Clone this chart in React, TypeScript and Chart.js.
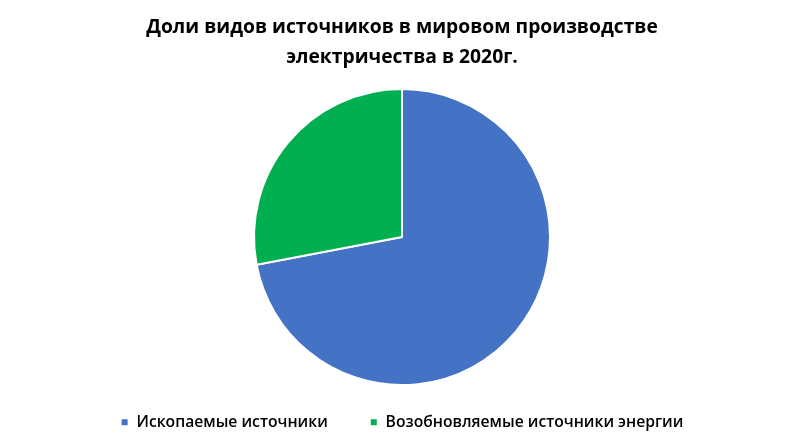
import React, { useEffect, useRef } from "react";
import { Chart, registerables } from "chart.js";

Chart.register(...registerables);

const sources = ["Ископаемые источники", "Возобновляемые источники энергии"];
const shares = [72, 28];
const colors = ["#4472C4", "#00B050"];
const titleLines = ["Доли видов источников в мировом производстве", "электричества в 2020г."];

export default function App() {
  const canvasRef = useRef<HTMLCanvasElement | null>(null);

  useEffect(() => {
    document.body.style.margin = "0";
    if (!canvasRef.current) return;
    const ctx = canvasRef.current.getContext("2d");
    if (!ctx) return;

    const chart = new Chart(ctx, {
      type: "pie",
      data: {
        labels: sources,
        datasets: [
          {
            data: shares,
            backgroundColor: colors,
            borderColor: "#ffffff",
            borderWidth: 2,
            radius: 148,
          },
        ],
      },
      options: {
        responsive: false,
        animation: false,
        layout: { padding: { top: 0, bottom: 2 } },
        plugins: {
          title: {
            display: true,
            text: titleLines,
            color: "#000000",
            font: { family: "Open Sans", size: 19.3, weight: "bold", lineHeight: 1.55 },
            padding: { top: 13, bottom: 29 },
          },
          legend: {
            position: "bottom",
            labels: {
              color: "#000000",
              font: { family: "Open Sans", size: 15.7, weight: "600" },
              boxWidth: 8,
              boxHeight: 8,
              padding: 42,
            },
          },
          tooltip: { enabled: false },
        },
      },
    });
    return () => chart.destroy();
  }, []);

  return (
    <div style={{ width: 804, height: 442, background: "#ffffff" }}>
      <canvas ref={canvasRef} width={804} height={442} />
    </div>
  );
}
